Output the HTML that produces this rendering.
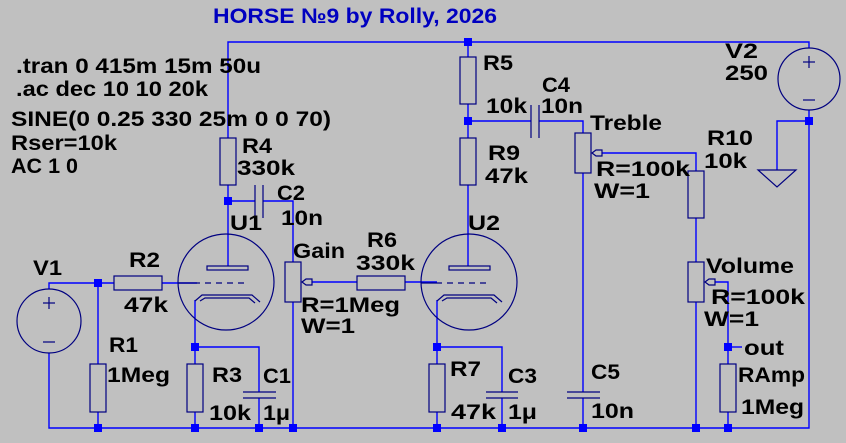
<!DOCTYPE html>
<html><head><meta charset="utf-8"><style>
html,body{margin:0;padding:0;background:#c0c0c0;}
svg{display:block}
text{font-family:"Liberation Sans",sans-serif;font-weight:bold;font-size:21px;fill:#000;}
.w{stroke:#0000ff;stroke-width:1.4;fill:none}
.c{stroke:#000080;stroke-width:1.2;fill:none}
.j{fill:#0000ff}
</style></head><body>
<svg width="846" height="443" viewBox="0 0 846 443" xmlns="http://www.w3.org/2000/svg">
<rect width="846" height="443" fill="#c0c0c0"/>
<g class="w">
<polyline points="228,138 228,42 809,42 809,48"/>
<line x1="468" y1="42" x2="468" y2="57"/>
<line x1="468" y1="104" x2="468" y2="138"/>
<line x1="468" y1="121" x2="531" y2="121"/>
<polyline points="539,121 583,121 583,133"/>
<line x1="583" y1="173" x2="583" y2="392"/>
<line x1="583" y1="398" x2="583" y2="428"/>
<polyline points="602,153 696,153 696,171"/>
<line x1="696" y1="218" x2="696" y2="262"/>
<line x1="696" y1="302" x2="696" y2="428"/>
<polyline points="715,282 728,282 728,364"/>
<line x1="728" y1="347" x2="742" y2="347"/>
<line x1="728" y1="412" x2="728" y2="428"/>
<polyline points="809,110 809,428 49,428 49,353"/>
<polyline points="809,121 777,121 777,170"/>
<line x1="468" y1="185" x2="468" y2="266"/>
<line x1="228" y1="185" x2="228" y2="266"/>
<line x1="228" y1="201" x2="255" y2="201"/>
<polyline points="263,201 293,201 293,262"/>
<line x1="293" y1="302" x2="293" y2="428"/>
<line x1="312" y1="282" x2="357" y2="282"/>
<line x1="405" y1="282" x2="437" y2="282"/>
<polyline points="49,289 49,283 114,283"/>
<line x1="162" y1="283" x2="197" y2="283"/>
<line x1="98" y1="283" x2="98" y2="364"/>
<line x1="98" y1="412" x2="98" y2="428"/>
<line x1="195" y1="300" x2="195" y2="364"/>
<line x1="195" y1="412" x2="195" y2="428"/>
<polyline points="195,347 259,347 259,392"/>
<line x1="259" y1="398" x2="259" y2="428"/>
<line x1="437" y1="300" x2="437" y2="364"/>
<line x1="437" y1="412" x2="437" y2="428"/>
<polyline points="437,347 502,347 502,392"/>
<line x1="502" y1="398" x2="502" y2="428"/>
</g>
<g class="c">
<rect x="220" y="138" width="16" height="47"/>
<rect x="460" y="57" width="16" height="47"/>
<rect x="460" y="138" width="16" height="47"/>
<rect x="114" y="276" width="48" height="14"/>
<rect x="357" y="276" width="48" height="14"/>
<rect x="90" y="364" width="16" height="48"/>
<rect x="187" y="364" width="16" height="48"/>
<rect x="429" y="364" width="16" height="48"/>
<rect x="688" y="171" width="16" height="47"/>
<rect x="720" y="364" width="16" height="48"/>
<rect x="285" y="262" width="16" height="40"/>
<rect x="575" y="133" width="16" height="40"/>
<rect x="688" y="262" width="16" height="40"/>
<polygon points="302,282 306,279 312,279 312,285 306,285"/>
<polygon points="592,153 596,150 602,150 602,156 596,156"/>
<polygon points="705,282 709,279 715,279 715,285 709,285"/>
<line x1="255" y1="185" x2="255" y2="218"/><line x1="263" y1="185" x2="263" y2="218"/>
<line x1="531" y1="105" x2="531" y2="138"/><line x1="539" y1="105" x2="539" y2="138"/>
<line x1="243" y1="392" x2="276" y2="392"/><line x1="243" y1="398" x2="276" y2="398"/>
<line x1="486" y1="392" x2="518" y2="392"/><line x1="486" y1="398" x2="518" y2="398"/>
<line x1="567" y1="392" x2="600" y2="392"/><line x1="567" y1="398" x2="600" y2="398"/>
<polygon points="758,170 796,170 777,187"/>
<circle cx="49" cy="321" r="32"/>
<line x1="43" y1="303" x2="55" y2="303"/><line x1="49" y1="297" x2="49" y2="309"/>
<line x1="43" y1="342" x2="55" y2="342"/>
<circle cx="809" cy="79" r="31"/>
<line x1="803" y1="62" x2="815" y2="62"/><line x1="809" y1="56" x2="809" y2="68"/>
<line x1="803" y1="100" x2="815" y2="100"/>
<circle cx="226" cy="282" r="48"/>
<rect x="207" y="266" width="41" height="4"/>
<line x1="178" y1="283" x2="200" y2="283"/>
<path d="M205 283H249" stroke-dasharray="6 5"/>
<polyline points="195,301 202,295 252,295 260,302"/>
<polyline points="200,301 205,298 249,298 255,303"/>
<circle cx="469" cy="282" r="48"/>
<rect x="449" y="266" width="41" height="4"/>
<line x1="421" y1="283" x2="442" y2="283"/>
<path d="M447 283H491" stroke-dasharray="6 5"/>
<polyline points="437,301 444,295 494,295 502,302"/>
<polyline points="442,301 447,298 491,298 497,303"/>
</g>
<g class="j">
<rect x="464" y="38" width="8" height="8"/>
<rect x="464" y="117" width="8" height="8"/>
<rect x="805" y="117" width="8" height="8"/>
<rect x="224" y="197" width="8" height="8"/>
<rect x="94" y="279" width="8" height="8"/>
<rect x="191" y="343" width="8" height="8"/>
<rect x="433" y="343" width="8" height="8"/>
<rect x="724" y="343" width="8" height="8"/>
<rect x="94" y="424" width="8" height="8"/>
<rect x="191" y="424" width="8" height="8"/>
<rect x="255" y="424" width="8" height="8"/>
<rect x="289" y="424" width="8" height="8"/>
<rect x="433" y="424" width="8" height="8"/>
<rect x="498" y="424" width="8" height="8"/>
<rect x="579" y="424" width="8" height="8"/>
<rect x="692" y="424" width="8" height="8"/>
<rect x="724" y="424" width="8" height="8"/>
</g>
<g lengthAdjust="spacingAndGlyphs">
<text x="213" y="23" textLength="284" lengthAdjust="spacingAndGlyphs" style="fill:#0000c0">HORSE №9 by Rolly, 2026</text>
<text x="16" y="73" textLength="245" lengthAdjust="spacingAndGlyphs">.tran 0 415m 15m 50u</text>
<text x="16" y="96" textLength="192" lengthAdjust="spacingAndGlyphs">.ac dec 10 10 20k</text>
<text x="11" y="126" textLength="320" lengthAdjust="spacingAndGlyphs">SINE(0 0.25 330 25m 0 0 70)</text>
<text x="11" y="150" textLength="106" lengthAdjust="spacingAndGlyphs">Rser=10k</text>
<text x="11" y="173" textLength="67" lengthAdjust="spacingAndGlyphs">AC 1 0</text>
<text x="483" y="70" textLength="30" lengthAdjust="spacingAndGlyphs">R5</text>
<text x="486" y="113" textLength="41" lengthAdjust="spacingAndGlyphs">10k</text>
<text x="542" y="92" textLength="28" lengthAdjust="spacingAndGlyphs">C4</text>
<text x="541" y="113" textLength="42" lengthAdjust="spacingAndGlyphs">10n</text>
<text x="590" y="130" textLength="72" lengthAdjust="spacingAndGlyphs">Treble</text>
<text x="488" y="160" textLength="32" lengthAdjust="spacingAndGlyphs">R9</text>
<text x="485" y="183" textLength="43" lengthAdjust="spacingAndGlyphs">47k</text>
<text x="596" y="176" textLength="94" lengthAdjust="spacingAndGlyphs">R=100k</text>
<text x="594" y="198" textLength="56" lengthAdjust="spacingAndGlyphs">W=1</text>
<text x="707" y="145" textLength="46" lengthAdjust="spacingAndGlyphs">R10</text>
<text x="704" y="168" textLength="43" lengthAdjust="spacingAndGlyphs">10k</text>
<text x="725" y="58" textLength="33" lengthAdjust="spacingAndGlyphs">V2</text>
<text x="725" y="80" textLength="43" lengthAdjust="spacingAndGlyphs">250</text>
<text x="468" y="230" textLength="32" lengthAdjust="spacingAndGlyphs">U2</text>
<text x="706" y="273" textLength="88" lengthAdjust="spacingAndGlyphs">Volume</text>
<text x="711" y="304" textLength="94" lengthAdjust="spacingAndGlyphs">R=100k</text>
<text x="704" y="326" textLength="55" lengthAdjust="spacingAndGlyphs">W=1</text>
<text x="744" y="355" textLength="40" lengthAdjust="spacingAndGlyphs">out</text>
<text x="738" y="382" textLength="67" lengthAdjust="spacingAndGlyphs">RAmp</text>
<text x="741" y="414" textLength="63" lengthAdjust="spacingAndGlyphs">1Meg</text>
<text x="450" y="376" textLength="31" lengthAdjust="spacingAndGlyphs">R7</text>
<text x="508" y="383" textLength="29" lengthAdjust="spacingAndGlyphs">C3</text>
<text x="451" y="419" textLength="45" lengthAdjust="spacingAndGlyphs">47k</text>
<text x="508" y="419" textLength="29" lengthAdjust="spacingAndGlyphs">1μ</text>
<text x="591" y="379" textLength="29" lengthAdjust="spacingAndGlyphs">C5</text>
<text x="591" y="418" textLength="43" lengthAdjust="spacingAndGlyphs">10n</text>
<text x="242" y="153" textLength="30" lengthAdjust="spacingAndGlyphs">R4</text>
<text x="237" y="175" textLength="58" lengthAdjust="spacingAndGlyphs">330k</text>
<text x="277" y="200" textLength="28" lengthAdjust="spacingAndGlyphs">C2</text>
<text x="281" y="225" textLength="42" lengthAdjust="spacingAndGlyphs">10n</text>
<text x="230" y="230" textLength="32" lengthAdjust="spacingAndGlyphs">U1</text>
<text x="293" y="258" textLength="52" lengthAdjust="spacingAndGlyphs">Gain</text>
<text x="367" y="247" textLength="30" lengthAdjust="spacingAndGlyphs">R6</text>
<text x="356" y="270" textLength="59" lengthAdjust="spacingAndGlyphs">330k</text>
<text x="33" y="275" textLength="29" lengthAdjust="spacingAndGlyphs">V1</text>
<text x="129" y="267" textLength="31" lengthAdjust="spacingAndGlyphs">R2</text>
<text x="124" y="312" textLength="44" lengthAdjust="spacingAndGlyphs">47k</text>
<text x="301" y="312" textLength="99" lengthAdjust="spacingAndGlyphs">R=1Meg</text>
<text x="301" y="333" textLength="54" lengthAdjust="spacingAndGlyphs">W=1</text>
<text x="109" y="352" textLength="29" lengthAdjust="spacingAndGlyphs">R1</text>
<text x="107" y="382" textLength="63" lengthAdjust="spacingAndGlyphs">1Meg</text>
<text x="212" y="382" textLength="30" lengthAdjust="spacingAndGlyphs">R3</text>
<text x="263" y="383" textLength="28" lengthAdjust="spacingAndGlyphs">C1</text>
<text x="209" y="420" textLength="42" lengthAdjust="spacingAndGlyphs">10k</text>
<text x="263" y="420" textLength="27" lengthAdjust="spacingAndGlyphs">1μ</text>
</g>
</svg>
</body></html>
